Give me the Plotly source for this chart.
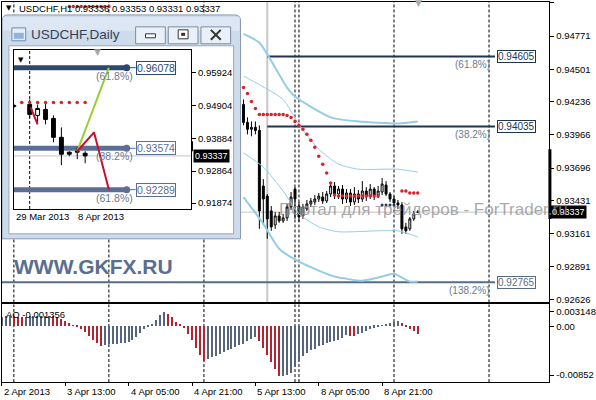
import plotly.graph_objects as go

W, H = 596, 400
def PX(px): return px / W
def PY(py): return 1 - py / H

FONT = "Liberation Sans"

# ---------------- H1 main chart data ----------------
h1_idx = list(range(61, 106))
h1_open = [0.94214, 0.94068, 0.94012, 0.94028, 0.94003, 0.93550, 0.93468, 0.93347, 0.93233, 0.93306,
           0.93266, 0.93290, 0.93379, 0.93525, 0.93387, 0.93306, 0.93363, 0.93404, 0.93420, 0.93444,
           0.93460, 0.93428, 0.93485, 0.93550, 0.93485, 0.93525, 0.93444, 0.93493, 0.93420, 0.93485,
           0.93444, 0.93509, 0.93468, 0.93525, 0.93476, 0.93501, 0.93558, 0.93485, 0.93444, 0.93412,
           0.93396, 0.93217, 0.93201, 0.93282, 0.93336]
h1_high = [0.94255, 0.94109, 0.94076, 0.94076, 0.94044, 0.93606, 0.93485, 0.93387, 0.93339, 0.93339,
           0.93323, 0.93404, 0.93501, 0.93541, 0.93420, 0.93404, 0.93436, 0.93452, 0.93476, 0.93493,
           0.93501, 0.93509, 0.93566, 0.93582, 0.93550, 0.93558, 0.93525, 0.93525, 0.93541, 0.93517,
           0.93590, 0.93541, 0.93566, 0.93541, 0.93550, 0.93615, 0.93590, 0.93501, 0.93468, 0.93436,
           0.93420, 0.93250, 0.93298, 0.93347, 0.93353]
h1_low = [0.94044, 0.93971, 0.93955, 0.93971, 0.93201, 0.93233, 0.93120, 0.93185, 0.93201, 0.93250,
          0.93250, 0.93266, 0.93355, 0.93282, 0.93258, 0.93282, 0.93347, 0.93379, 0.93396, 0.93420,
          0.93404, 0.93412, 0.93460, 0.93444, 0.93444, 0.93404, 0.93412, 0.93387, 0.93396, 0.93412,
          0.93420, 0.93428, 0.93444, 0.93436, 0.93452, 0.93476, 0.93468, 0.93420, 0.93387, 0.93363,
          0.93160, 0.93160, 0.93185, 0.93266, 0.93331]
h1_close = [0.94068, 0.94012, 0.94028, 0.94003, 0.93347, 0.93444, 0.93282, 0.93217, 0.93306, 0.93266,
            0.93290, 0.93379, 0.93460, 0.93444, 0.93298, 0.93379, 0.93404, 0.93428, 0.93444, 0.93468,
            0.93428, 0.93485, 0.93550, 0.93485, 0.93525, 0.93444, 0.93493, 0.93420, 0.93485, 0.93444,
            0.93509, 0.93468, 0.93525, 0.93476, 0.93509, 0.93566, 0.93485, 0.93444, 0.93412, 0.93396,
            0.93201, 0.93185, 0.93282, 0.93323, 0.93337]

# Parabolic SAR dots
sar_red_idx = [17, 18, 19, 20, 21, 22, 23, 24, 25, 26, 27,
               61, 62, 63, 64, 65, 66, 67, 68, 69, 70, 71, 72, 73, 74, 75, 76, 77, 78, 79, 80,
               81, 82, 83, 84, 85, 86, 87, 88, 89, 90, 91, 92, 93, 94, 95,
               101, 102, 103, 104, 105]
sar_red_val = [0.95012, 0.95012, 0.95012, 0.95012, 0.95012, 0.95012, 0.95012, 0.95012, 0.95012, 0.95012, 0.95012,
               0.94352, 0.94303, 0.94239, 0.94182, 0.94133, 0.94133, 0.94133, 0.94133, 0.94133, 0.94133, 0.94133,
               0.94125, 0.94109, 0.94076, 0.94044, 0.94012, 0.93971, 0.93922, 0.93866, 0.93793,
               0.93728, 0.93655, 0.93574, 0.93477, 0.93468, 0.93468, 0.93468, 0.93468, 0.93468, 0.93468,
               0.93468, 0.93468, 0.93468, 0.93468, 0.93468,
               0.93509, 0.93509, 0.93493, 0.93493, 0.93493]
sar_blue_idx = [96, 97, 98, 99]
sar_blue_val = [0.93396, 0.93396, 0.93396, 0.93396]

# Bands (light blue)
bb_up_thick_idx = [61, 65, 72, 74, 83, 90, 100, 105]
bb_up_thick_val = [0.94790, 0.94717, 0.94352, 0.94279, 0.94109, 0.94076, 0.94060, 0.94076]
bb_up_thin_idx = [61, 65, 71, 75, 80, 85, 90, 100, 105]
bb_up_thin_val = [0.94445, 0.94376, 0.94255, 0.94052, 0.93849, 0.93728, 0.93687, 0.93687, 0.93663]
bb_lo_thin_idx = [61, 66, 71, 75, 80, 85, 95, 100, 105]
bb_lo_thin_val = [0.93820, 0.93704, 0.93509, 0.93323, 0.93217, 0.93177, 0.93185, 0.93185, 0.93136]
bb_lo_thick_idx = [61, 66, 70, 75, 80, 84, 91, 96, 99, 103, 105]
bb_lo_thick_val = [0.93460, 0.93242, 0.93039, 0.92933, 0.92861, 0.92812, 0.92779, 0.92812, 0.92836, 0.92771, 0.92771]

# Awesome Oscillator (one value per bar, bar 0 .. 105)
ao_val = [0.00160, 0.00170, 0.00175, 0.00170, 0.00162, 0.00155, 0.00160, 0.00165, 0.00170, 0.00172,
          0.00175, 0.00178, 0.00180, 0.00170, 0.00150, 0.00120, 0.00085, 0.00045, 0.00015, -0.00010,
          -0.00050, -0.00110, -0.00180, -0.00250, -0.00300, -0.00345, -0.00330, -0.00325, -0.00320, -0.00315,
          -0.00305, -0.00300, -0.00290, -0.00250, -0.00200, -0.00130, -0.00060, -0.00020, 0.00030, 0.00110,
          0.00190, 0.00250, 0.00210, 0.00150, 0.00070, 0.00020, -0.00040, -0.00140, -0.00240, -0.00380,
          -0.00500, -0.00620, -0.00570, -0.00540, -0.00520, -0.00490, -0.00460, -0.00430, -0.00400, -0.00370,
          -0.00340, -0.00310, -0.00270, -0.00230, -0.00200, -0.00260, -0.00380, -0.00510, -0.00630, -0.00760,
          -0.00880, -0.00870, -0.00850, -0.00830, -0.00720, -0.00620, -0.00530, -0.00470, -0.00430, -0.00400,
          -0.00360, -0.00330, -0.00300, -0.00280, -0.00260, -0.00240, -0.00210, -0.00160, -0.00170, -0.00180,
          -0.00150, -0.00120, -0.00090, -0.00060, -0.00030, -0.00010, 0.00015, 0.00040, 0.00055, 0.00075,
          0.00085, 0.00055, -0.00020, -0.00060, -0.00090, -0.001356]

main_ticks = [0.95041, 0.94771, 0.94501, 0.94236, 0.93966, 0.93696, 0.93431, 0.93161, 0.92891, 0.92626]
ao_tick_pos = [0.0026, 0.0, -0.00852]        # where the scale labels sit in the picture
ao_ticktext = ["0.003148", "0.00", "-0.00852"]
time_idx = [0, 16, 32, 48, 64, 80, 96]
time_text = ["2 Apr 2013", "3 Apr 13:00", "4 Apr 05:00", "4 Apr 21:00", "5 Apr 13:00", "8 Apr 05:00", "8 Apr 21:00"]
grid_idx = [3, 27, 51, 74, 75, 99, 123]
fib_levels = [0.94605, 0.94035, 0.92765]
fib_text = ["(61.8%)", "(38.2%)", "(138.2%)"]
fib_label = ["0.94605", "0.94035", "0.92765"]
fib_start = [67, 67, 0]
fib_color = ["#1f3550", "#1f3550", "#5a6b84"]
last_price = 0.93337
title_text = "USDCHF,H1 0.93336 0.93353 0.93331 0.93337"

# ---------------- Daily inset data ----------------
d1_idx = [0, 2, 3, 4, 5, 6, 7, 8, 9]
d1_open = [0.94873, 0.94935, 0.94595, 0.94780, 0.94502, 0.93915, 0.93451, 0.93451, 0.93420]
d1_high = [0.94966, 0.95090, 0.94935, 0.95028, 0.94595, 0.94224, 0.93482, 0.93606, 0.93482]
d1_low = [0.94811, 0.94533, 0.94379, 0.94317, 0.93760, 0.93050, 0.93328, 0.93235, 0.93111]
d1_close = [0.94904, 0.94626, 0.94811, 0.94471, 0.93915, 0.93390, 0.93390, 0.93482, 0.93337]
d1_sar_idx = [1, 2, 3, 4, 5, 6, 7, 8, 9]
d1_sar_val = [0.94997, 0.94997, 0.94997, 0.94997, 0.94997, 0.94997, 0.94997, 0.94997, 0.94997]
d1_green_x = [8, 12]
d1_green_y = [0.93482, 0.96078]
d1_red_x = [8, 10.125, 12]
d1_red_y = [0.93482, 0.94070, 0.92289]
d1_red2_x = [2.125, 3]
d1_red2_y = [0.94842, 0.94317]
d1_fib_levels = [0.96078, 0.93574, 0.92289]
d1_fib_text = ["(61.8%)", "(38.2%)", "(61.8%)"]
d1_fib_label = ["0.96078", "0.93574", "0.92289"]
d1_fib_color = ["#2c4870", "#5b6f96", "#5b6f96"]
d1_ticks = [0.95924, 0.94904, 0.93884, 0.92864, 0.91874]
d1_time_idx = [0, 7.875]
d1_time_text = ["29 Mar 2013", "8 Apr 2013"]

# ---------------- figure ----------------
fig = go.Figure()

ao_colors = []
for k, v in enumerate(ao_val):
    ao_colors.append("#56657a" if (k == 0 or v > ao_val[k - 1]) else "#b4232f")

for xs, ys, wdt in [(bb_up_thick_idx, bb_up_thick_val, 2), (bb_lo_thick_idx, bb_lo_thick_val, 2),
                    (bb_up_thin_idx, bb_up_thin_val, 1), (bb_lo_thin_idx, bb_lo_thin_val, 1)]:
    fig.add_trace(go.Scatter(x=xs, y=ys, mode="lines", line=dict(color="#95cde6", width=wdt, shape="spline", smoothing=0.6),
                             xaxis="x", yaxis="y", showlegend=False, hoverinfo="skip"))

fig.add_trace(go.Candlestick(x=h1_idx, open=h1_open, high=h1_high, low=h1_low, close=h1_close,
                             xaxis="x", yaxis="y", whiskerwidth=0,
                             increasing=dict(line=dict(color="black", width=1), fillcolor="white"),
                             decreasing=dict(line=dict(color="black", width=1), fillcolor="black"),
                             showlegend=False, hoverinfo="skip"))
fig.add_trace(go.Scatter(x=sar_red_idx, y=sar_red_val, mode="markers", marker=dict(color="#d8222a", size=3.5),
                         xaxis="x", yaxis="y", showlegend=False, hoverinfo="skip"))
fig.add_trace(go.Scatter(x=sar_blue_idx, y=sar_blue_val, mode="markers", marker=dict(color="#2c3e60", size=3),
                         xaxis="x", yaxis="y", showlegend=False, hoverinfo="skip"))

fig.add_trace(go.Bar(x=list(range(len(ao_val))), y=ao_val, width=0.35, marker=dict(color=ao_colors, line=dict(width=0)),
                     xaxis="x2", yaxis="y2", showlegend=False, hoverinfo="skip"))

fig.add_trace(go.Candlestick(x=d1_idx, open=d1_open, high=d1_high, low=d1_low, close=d1_close,
                             xaxis="x3", yaxis="y3", whiskerwidth=0,
                             increasing=dict(line=dict(color="black", width=1), fillcolor="white"),
                             decreasing=dict(line=dict(color="black", width=1), fillcolor="black"),
                             showlegend=False, hoverinfo="skip"))
fig.add_trace(go.Scatter(x=d1_sar_idx, y=d1_sar_val, mode="markers", marker=dict(color="#d8222a", size=3.5),
                         xaxis="x3", yaxis="y3", showlegend=False, hoverinfo="skip"))
fig.add_trace(go.Scatter(x=d1_green_x, y=d1_green_y, mode="lines", line=dict(color="#9acd32", width=2),
                         xaxis="x3", yaxis="y3", showlegend=False, hoverinfo="skip"))
fig.add_trace(go.Scatter(x=d1_red_x, y=d1_red_y, mode="lines", line=dict(color="#c8102e", width=2),
                         xaxis="x3", yaxis="y3", showlegend=False, hoverinfo="skip"))
fig.add_trace(go.Scatter(x=d1_red2_x, y=d1_red2_y, mode="lines", line=dict(color="#c8102e", width=2),
                         xaxis="x3", yaxis="y3", showlegend=False, hoverinfo="skip"))
fig.add_trace(go.Scatter(x=[14.25] * len(d1_fib_levels), y=d1_fib_levels, mode="markers",
                         marker=dict(color=d1_fib_color, size=7), xaxis="x3", yaxis="y3",
                         showlegend=False, hoverinfo="skip"))

shapes = []
annotations = []

MAIN_DOM = [PY(304), PY(2)]
AO_DOM = [PY(384), PY(306)]
for g in grid_idx:
    shapes.append(dict(type="line", xref="x", yref="paper", x0=g, x1=g, y0=MAIN_DOM[0], y1=MAIN_DOM[1],
                       line=dict(color="black", width=1, dash="3px,2px"), layer="below"))
    shapes.append(dict(type="line", xref="x2", yref="paper", x0=g, x1=g, y0=AO_DOM[0], y1=AO_DOM[1],
                       line=dict(color="black", width=1, dash="3px,2px"), layer="below"))
shapes.append(dict(type="line", xref="paper", yref="y", x0=PX(2), x1=PX(555), y0=last_price, y1=last_price,
                   line=dict(color="#c4c4c4", width=1), layer="below"))
shapes.append(dict(type="line", xref="x", yref="paper", x0=67, x1=67, y0=MAIN_DOM[0], y1=MAIN_DOM[1],
                   line=dict(color="#c8c8c8", width=2), layer="below"))
shapes.append(dict(type="line", xref="paper", yref="y", x0=PX(555.5), x1=PX(555.5), y0=0.93849, y1=0.93282,
                   line=dict(color="black", width=3), layer="below"))

frame_path = (f"M {PX(2)},{PY(240)} L {PX(2)},{PY(21)} Q {PX(2)},{PY(15)} {PX(8)},{PY(15)} "
              f"L {PX(237)},{PY(15)} Q {PX(243)},{PY(15)} {PX(243)},{PY(21)} L {PX(243)},{PY(240)} Z")
shapes.append(dict(type="path", xref="paper", yref="paper", path=frame_path, fillcolor="#cddbeb",
                   line=dict(color="#8797ac", width=1), layer="below"))
shapes.append(dict(type="rect", xref="paper", yref="paper", x0=PX(3), x1=PX(242), y0=PY(31), y1=PY(17),
                   fillcolor="#dde7f3", line=dict(width=0), layer="below"))
shapes.append(dict(type="rect", xref="paper", yref="paper", x0=PX(9), x1=PX(236), y0=PY(235), y1=PY(46),
                   fillcolor="white", line=dict(color="#9aa8b8", width=1), layer="below"))
for bx0, bx1 in [(137, 167), (170, 200), (203, 233)]:
    shapes.append(dict(type="rect", xref="paper", yref="paper", x0=PX(bx0), x1=PX(bx1), y0=PY(44), y1=PY(27),
                       fillcolor="#eaf0f7", line=dict(color="#7d8da3", width=1), layer="below"))
shapes.append(dict(type="rect", xref="paper", yref="paper", x0=PX(147), x1=PX(157), y0=PY(38), y1=PY(34),
                   fillcolor="white", line=dict(color="#333333", width=1), layer="below"))
shapes.append(dict(type="rect", xref="paper", yref="paper", x0=PX(180), x1=PX(190), y0=PY(39), y1=PY(30),
                   fillcolor="white", line=dict(color="#333333", width=1), layer="below"))
shapes.append(dict(type="rect", xref="paper", yref="paper", x0=PX(183), x1=PX(187), y0=PY(36), y1=PY(33),
                   fillcolor="#333333", line=dict(width=0), layer="below"))
shapes.append(dict(type="line", xref="paper", yref="paper", x0=PX(213), x1=PX(223), y0=PY(30), y1=PY(40),
                   line=dict(color="#333333", width=2), layer="below"))
shapes.append(dict(type="line", xref="paper", yref="paper", x0=PX(213), x1=PX(223), y0=PY(40), y1=PY(30),
                   line=dict(color="#333333", width=2), layer="below"))
shapes.append(dict(type="rect", xref="paper", yref="paper", x0=PX(12), x1=PX(26), y0=PY(41), y1=PY(28),
                   fillcolor="#e3ecf7", line=dict(color="#6f8cb0", width=1), layer="below"))
shapes.append(dict(type="rect", xref="paper", yref="paper", x0=PX(14), x1=PX(24), y0=PY(39), y1=PY(33),
                   fillcolor="#8fb3dc", line=dict(width=0), layer="below"))
shapes.append(dict(type="line", xref="paper", yref="paper", x0=PX(193.5), x1=PX(193.5), y0=PY(152), y1=PY(142),
                   line=dict(color="black", width=3), layer="below"))

for lv, st, col in zip(fib_levels, fib_start, fib_color):
    shapes.append(dict(type="line", xref="x", yref="y", x0=st, x1=124.5, y0=lv, y1=lv,
                       line=dict(color=col, width=2), layer="below"))

shapes.append(dict(type="line", xref="x3", yref="y3", x0=2, x1=2, y0=0.91690, y1=0.96635,
                   line=dict(color="black", width=1, dash="3px,2px"), layer="below"))
shapes.append(dict(type="line", xref="x3", yref="y3", x0=0, x1=22.375, y0=last_price, y1=last_price,
                   line=dict(color="#c4c4c4", width=1), layer="below"))
for lv, col in zip(d1_fib_levels, d1_fib_color):
    shapes.append(dict(type="line", xref="x3", yref="y3", x0=0, x1=14.25, y0=lv, y1=lv,
                       line=dict(color=col, width=5), layer="below"))
    shapes.append(dict(type="line", xref="x3", yref="y3", x0=14.25, x1=15.375, y0=lv, y1=lv,
                       line=dict(color=col, width=1), layer="below"))

annotations.append(dict(xref="paper", yref="paper", x=PX(17), y=PY(9), xanchor="left", yanchor="middle",
                        text=title_text, showarrow=False, font=dict(family=FONT, size=9.5, color="black")))
annotations.append(dict(xref="paper", yref="paper", x=PX(4), y=PY(8), xanchor="left", yanchor="middle",
                        text="▼", showarrow=False, font=dict(family="DejaVu Sans", size=7, color="black")))
annotations.append(dict(xref="x", yref="paper", x=105.25, y=PY(3), xanchor="center", yanchor="middle",
                        text="▼", showarrow=False, font=dict(family="DejaVu Sans", size=9, color="#a8a8a8")))
for lv, txt, lab, col in zip(fib_levels, fib_text, fib_label, fib_color):
    annotations.append(dict(xref="x", yref="y", x=125, y=lv, xanchor="left", yanchor="middle", text=lab,
                            showarrow=False, bordercolor=col, borderwidth=1, borderpad=0, bgcolor="white",
                            font=dict(family=FONT, size=10, color=col)))
    annotations.append(dict(xref="x", yref="y", x=123.8, y=lv - 0.00066, xanchor="right", yanchor="middle",
                            text=txt, showarrow=False, font=dict(family=FONT, size=10, color="#6b7a8e")))
annotations.append(dict(xref="paper", yref="y", x=PX(556), y=last_price, xanchor="left", yanchor="middle",
                        text="0.93337", showarrow=False, bgcolor="black", borderpad=1,
                        font=dict(family=FONT, size=9, color="white")))
annotations.append(dict(xref="paper", yref="paper", x=PX(12), y=PY(268), xanchor="left", yanchor="middle",
                        text="<b>WWW.GKFX.RU</b>", showarrow=False,
                        font=dict(family=FONT, size=21, color="#5a6e90")))
annotations.append(dict(xref="paper", yref="paper", x=PX(280), y=PY(211), xanchor="left", yanchor="middle",
                        text="Портал для трейдеров - ForTrader.ru", showarrow=False,
                        font=dict(family=FONT, size=17, color="rgba(140,140,140,0.75)")))
annotations.append(dict(xref="paper", yref="paper", x=PX(4), y=PY(316), xanchor="left", yanchor="middle",
                        text="AO -0.001356", showarrow=False, font=dict(family=FONT, size=9.5, color="black")))
for ti, tt in zip(time_idx, time_text):
    annotations.append(dict(xref="x2", yref="paper", x=ti, y=PY(393), xanchor="left", yanchor="middle",
                            text=tt, showarrow=False, font=dict(family=FONT, size=9.5, color="black")))
annotations.append(dict(xref="paper", yref="paper", x=PX(29), y=PY(35), xanchor="left", yanchor="middle",
                        text="USDCHF,Daily", showarrow=False, font=dict(family=FONT, size=13.5, color="#34435a")))
annotations.append(dict(xref="paper", yref="paper", x=PX(16), y=PY(60), xanchor="left", yanchor="middle",
                        text="▼", showarrow=False, font=dict(family="DejaVu Sans", size=7, color="black")))
annotations.append(dict(xref="paper", yref="paper", x=PX(98), y=PY(52), xanchor="center", yanchor="middle",
                        text="▼", showarrow=False, font=dict(family="DejaVu Sans", size=9, color="#a8a8a8")))
for lv, txt, lab, col in zip(d1_fib_levels, d1_fib_text, d1_fib_label, d1_fib_color):
    annotations.append(dict(xref="x3", yref="y3", x=15.375, y=lv, xanchor="left", yanchor="middle", text=lab,
                            showarrow=False, bordercolor=col, borderwidth=1, borderpad=0, bgcolor="white",
                            font=dict(family=FONT, size=10.5, color=col)))
    annotations.append(dict(xref="x3", yref="y3", x=15.3, y=lv - 0.0025, xanchor="right", yanchor="middle",
                            text=txt, showarrow=False, font=dict(family=FONT, size=10.5, color="#6b7a8e")))
annotations.append(dict(xref="paper", yref="y3", x=PX(195), y=last_price, xanchor="left", yanchor="middle",
                        text="0.93337", showarrow=False, bgcolor="black", borderpad=1,
                        font=dict(family=FONT, size=9, color="white")))
for ti, tt in zip(d1_time_idx, d1_time_text):
    annotations.append(dict(xref="x3", yref="paper", x=ti, y=PY(218), xanchor="left", yanchor="middle",
                            text=tt, showarrow=False, font=dict(family=FONT, size=9.5, color="black")))

axis_common = dict(showgrid=False, zeroline=False, showline=True, mirror=True, linecolor="black", linewidth=1)

fig.update_layout(
    width=W, height=H, margin=dict(l=0, r=0, t=0, b=0),
    paper_bgcolor="white", plot_bgcolor="white", showlegend=False,
    bargap=0,
    xaxis=dict(domain=[PX(2), PX(555)], range=[0, 138.25], anchor="y", showticklabels=False, ticks="",
               rangeslider=dict(visible=False), **axis_common),
    yaxis=dict(domain=MAIN_DOM, range=[0.926011, 0.950491], anchor="x", side="right", tickvals=main_ticks,
               ticktext=[f"{v:.5f}" for v in main_ticks], ticks="outside", ticklen=4, tickcolor="black",
               tickfont=dict(family=FONT, size=9.5, color="black"), **axis_common),
    xaxis2=dict(domain=[PX(2), PX(555)], range=[0, 138.25], anchor="y2", showticklabels=False,
                tickvals=time_idx, ticks="outside", ticklen=3, tickcolor="black", **axis_common),
    yaxis2=dict(domain=AO_DOM, range=[-0.009739, 0.003826], anchor="x2", side="right", tickvals=ao_tick_pos,
                ticktext=ao_ticktext, ticks="outside", ticklen=4, tickcolor="black",
                tickfont=dict(family=FONT, size=9.5, color="black"), **axis_common),
    xaxis3=dict(domain=[PX(14), PX(193)], range=[0, 22.375], anchor="y3", showticklabels=False, ticks="",
                rangeslider=dict(visible=False), **axis_common),
    yaxis3=dict(domain=[PY(210), PY(50)], range=[0.916895, 0.966349], anchor="x3", side="right",
                tickvals=d1_ticks, ticktext=[f"{v:.5f}" for v in d1_ticks], ticks="outside", ticklen=4,
                tickcolor="black", tickfont=dict(family=FONT, size=9.5, color="black"), **axis_common),
    shapes=shapes, annotations=annotations,
)

fig.write_html("out.html", config={"displayModeBar": False},
               post_script="document.body.style.margin='0';document.body.style.padding='0';")
